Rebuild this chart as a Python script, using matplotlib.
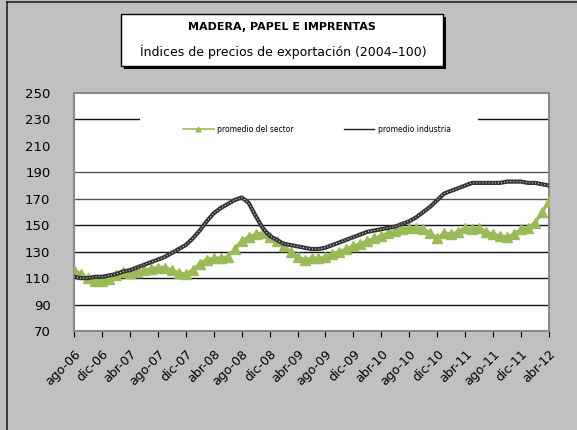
import matplotlib
matplotlib.use("Agg")
import matplotlib.pyplot as plt
from matplotlib.patches import Rectangle
from matplotlib.lines import Line2D

# ---- data ----
months = ["ago-06", "sep-06", "oct-06", "nov-06", "dic-06", "ene-07", "feb-07", "mar-07",
          "abr-07", "may-07", "jun-07", "jul-07", "ago-07", "sep-07", "oct-07", "nov-07",
          "dic-07", "ene-08", "feb-08", "mar-08", "abr-08", "may-08", "jun-08", "jul-08",
          "ago-08", "sep-08", "oct-08", "nov-08", "dic-08", "ene-09", "feb-09", "mar-09",
          "abr-09", "may-09", "jun-09", "jul-09", "ago-09", "sep-09", "oct-09", "nov-09",
          "dic-09", "ene-10", "feb-10", "mar-10", "abr-10", "may-10", "jun-10", "jul-10",
          "ago-10", "sep-10", "oct-10", "nov-10", "dic-10", "ene-11", "feb-11", "mar-11",
          "abr-11", "may-11", "jun-11", "jul-11", "ago-11", "sep-11", "oct-11", "nov-11",
          "dic-11", "ene-12", "feb-12", "mar-12", "abr-12"]

sector = [116, 113, 110, 108, 108, 109, 112, 115, 114, 115, 116, 117, 118, 118, 116, 114,
          113, 116, 121, 124, 125, 125, 126, 132, 138, 141, 143, 144, 141, 138, 134, 130,
          126, 124, 125, 125, 126, 128, 130, 132, 134, 136, 138, 140, 142, 144, 146, 147,
          148, 148, 147, 144, 140, 144, 143, 145, 148, 147, 148, 145, 143, 142, 141, 143,
          147, 148, 152, 160, 168]

industria = [111, 110, 110, 111, 111, 112, 113, 115, 116, 118, 120, 122, 124, 126, 129, 132,
             135, 140, 146, 153, 159, 163, 166, 169, 171, 167, 157, 148, 142, 139, 136, 135,
             134, 133, 132, 132, 133, 135, 137, 139, 141, 143, 145, 146, 147, 148, 149, 151,
             153, 156, 160, 164, 169, 174, 176, 178, 180, 182, 182, 182, 182, 182, 183, 183,
             183, 182, 182, 181, 180]

tick_step = 4
yticks = [70, 90, 110, 130, 150, 170, 190, 210, 230, 250]
grid_levels = [90, 110, 130, 150, 170, 190, 230]
grid_colors = ["#111111", "#111111", "#111111", "#111111", "#555555", "#555555", "#111111"]

title1 = "MADERA, PAPEL E IMPRENTAS"
title2 = "Índices de precios de exportación (2004–100)"
label_sector = "promedio del sector"
label_ind = "promedio industria"

# ---- figure ----
W, H = 577, 430
fig = plt.figure(figsize=(W / 100, H / 100), dpi=100)
fig.patch.set_facecolor("#c0c0c0")

def fx(px):
    return px / W

def fy(py):
    return 1 - py / H

# outer border (left and top visible)
fig.add_artist(Line2D([fx(7), fx(7)], [fy(2), fy(430)], color="#222222", lw=1.2))
fig.add_artist(Line2D([fx(7), fx(577)], [fy(2), fy(2)], color="#222222", lw=1.2))

ax = fig.add_axes([fx(74), fy(331), fx(549) - fx(74), fy(93) - fy(331)])
ax.set_facecolor("white")

x = list(range(len(months)))

for lvl, c in zip(grid_levels, grid_colors):
    ax.axhline(lvl, color=c, lw=1.0, zorder=1)

# white legend area covering part of the grid
ax.add_patch(Rectangle(((140 - 74) / 475, (203 - 70) / 180), (478 - 140) / 475, 37 / 180,
                       transform=ax.transAxes, facecolor="white", edgecolor="none", zorder=2))

ax.plot(x, sector, color="#9bbb59", lw=2.5, marker="^", markersize=7.5,
        markeredgecolor="#9bbb59", zorder=3)
ax.plot(x, industria, color="#333333", lw=3.0, zorder=4)
ax.plot(x, industria, color="white", lw=0.7, ls=(0, (1, 2.2)), zorder=5)

ax.set_xlim(0, len(months) - 1)
ax.set_ylim(70, 250)

ax.set_yticks(yticks)
ax.set_yticklabels([str(v) for v in yticks], fontsize=9.5)
ax.tick_params(axis="y", length=0, pad=17)

tick_pos = list(range(0, len(months), tick_step))
ax.set_xticks(tick_pos)
ax.set_xticklabels([months[i] for i in tick_pos], rotation=45, ha="right", va="top",
                   rotation_mode="anchor", fontsize=9)
ax.tick_params(axis="x", length=4, width=0.8, direction="out", pad=8)

for s in ax.spines.values():
    s.set_color("#8a8a8a")
    s.set_linewidth(1.5)

# legend (manual placement)
h1 = Line2D([], [], color="#9bbb59", lw=1.2, marker="^", markersize=3.5)
h2 = Line2D([], [], color="#222222", lw=1.0)
leg = ax.legend([h1, h2], [label_sector, label_ind], ncol=2, frameon=False,
                fontsize=5.5, handlelength=4.0, columnspacing=6.5,
                loc="center left", bbox_to_anchor=((180 - 74) / 475, (222.5 - 70) / 180),
                borderaxespad=0, handletextpad=0.5)
leg.set_zorder(6)

# title box with shadow
bx0, bx1, by0, by1 = 121, 443, 14, 66
fig.add_artist(Rectangle((fx(bx0 + 3), fy(by1 + 3)), fx(bx1) - fx(bx0), fy(by0) - fy(by1),
                         transform=fig.transFigure, facecolor="black", edgecolor="none"))
fig.add_artist(Rectangle((fx(bx0), fy(by1)), fx(bx1) - fx(bx0), fy(by0) - fy(by1),
                         transform=fig.transFigure, facecolor="white", edgecolor="black", lw=1.0))
fig.text(fx(282), fy(27), title1, ha="center", va="center", fontsize=8, fontweight="bold")
fig.text(fx(283), fy(52), title2, ha="center", va="center", fontsize=9)

fig.savefig("out.png", dpi=100, facecolor=fig.get_facecolor())
